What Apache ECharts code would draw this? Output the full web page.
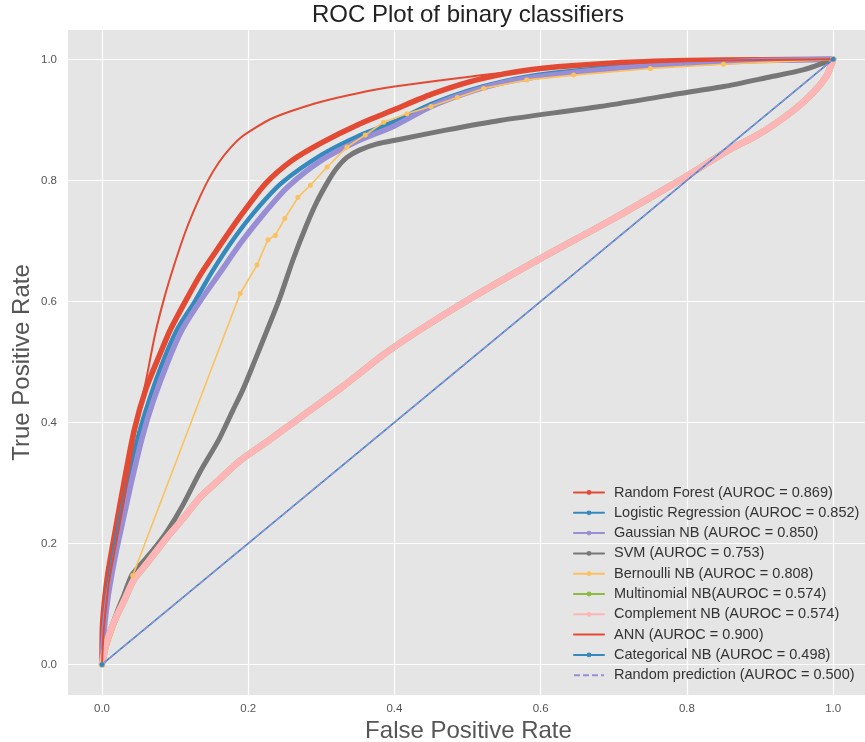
<!DOCTYPE html>
<html><head><meta charset="utf-8">
<script src="https://cdn.jsdelivr.net/npm/echarts@6/dist/echarts.min.js"></script>
<style>html,body{margin:0;padding:0;background:#fff}#c{width:865px;height:742px}</style>
</head><body><div id="c"></div>
<script>
// ---- data (x = FPR, y = TPR) ----
const tickValues = [0.0, 0.2, 0.4, 0.6, 0.8, 1.0];
const seriesNames = [
  'Random Forest (AUROC = 0.869)',
  'Logistic Regression (AUROC = 0.852)',
  'Gaussian NB (AUROC = 0.850)',
  'SVM (AUROC = 0.753)',
  'Bernoulli NB (AUROC = 0.808)',
  'Multinomial NB(AUROC = 0.574)',
  'Complement NB (AUROC = 0.574)',
  'ANN (AUROC = 0.900)',
  'Categorical NB (AUROC = 0.498)',
  'Random prediction (AUROC = 0.500)'
];
const randomForest = [[0,0],[0.0005,0.06],[0.003,0.1],[0.008,0.15],[0.018,0.22],[0.03,0.3],[0.044,0.387],[0.06,0.455],[0.08,0.515],[0.093,0.552],[0.114,0.6],[0.134,0.643],[0.16,0.69],[0.19,0.742],[0.224,0.795],[0.26,0.833],[0.3,0.862],[0.35,0.892],[0.4,0.917],[0.45,0.942],[0.5,0.962],[0.55,0.976],[0.6,0.985],[0.7,0.994],[0.8,0.998],[0.9,0.9995],[1,1]];
const logisticRegression = [[0,0],[0.002,0.05],[0.005,0.09],[0.01,0.14],[0.02,0.21],[0.03,0.27],[0.046,0.36],[0.06,0.42],[0.08,0.49],[0.102,0.552],[0.127,0.6],[0.15,0.648],[0.18,0.703],[0.21,0.75],[0.246,0.796],[0.3,0.842],[0.35,0.873],[0.4,0.897],[0.45,0.926],[0.5,0.948],[0.55,0.964],[0.6,0.975],[0.7,0.987],[0.8,0.994],[0.9,0.998],[1,1]];
const gaussianNB = [[0,0],[0.002,0.04],[0.005,0.08],[0.01,0.125],[0.02,0.19],[0.03,0.245],[0.04,0.3],[0.055,0.375],[0.07,0.435],[0.09,0.5],[0.109,0.552],[0.134,0.6],[0.16,0.645],[0.19,0.697],[0.22,0.743],[0.254,0.789],[0.3,0.833],[0.35,0.865],[0.4,0.89],[0.45,0.922],[0.5,0.945],[0.55,0.962],[0.6,0.972],[0.7,0.985],[0.8,0.993],[0.9,0.998],[1,1]];
const svm = [[0,0],[0.005,0.03],[0.01,0.05],[0.02,0.085],[0.03,0.115],[0.041,0.148],[0.06,0.175],[0.075,0.197],[0.089,0.22],[0.11,0.262],[0.134,0.318],[0.16,0.372],[0.179,0.42],[0.193,0.455],[0.21,0.505],[0.225,0.55],[0.243,0.605],[0.261,0.668],[0.28,0.727],[0.294,0.765],[0.31,0.8],[0.321,0.82],[0.335,0.838],[0.352,0.85],[0.375,0.86],[0.408,0.868],[0.47,0.883],[0.544,0.899],[0.681,0.922],[0.773,0.94],[0.85,0.955],[0.91,0.97],[0.96,0.983],[1,1]];
const bernoulliNB = [[0,0],[0.042,0.147],[0.189,0.613],[0.212,0.66],[0.227,0.702],[0.237,0.709],[0.25,0.737],[0.268,0.772],[0.285,0.792],[0.308,0.822],[0.335,0.855],[0.36,0.875],[0.385,0.896],[0.417,0.91],[0.45,0.922],[0.486,0.937],[0.522,0.952],[0.581,0.966],[0.645,0.974],[0.75,0.985],[0.85,0.992],[1,1]];
const complementNB = [[0,0],[0.005,0.03],[0.01,0.05],[0.02,0.08],[0.03,0.105],[0.043,0.139],[0.06,0.165],[0.089,0.21],[0.11,0.24],[0.134,0.276],[0.16,0.305],[0.189,0.337],[0.23,0.372],[0.271,0.408],[0.33,0.46],[0.385,0.512],[0.431,0.55],[0.5,0.602],[0.6,0.671],[0.7,0.737],[0.79,0.8],[0.818,0.821],[0.86,0.852],[0.895,0.874],[0.92,0.893],[0.945,0.915],[0.965,0.936],[0.98,0.955],[0.992,0.975],[1,1]];
// Multinomial NB has the same curve and is hidden under Complement NB
const multinomialNB = [[0,0],[0.005,0.03],[0.01,0.05],[0.02,0.08],[0.03,0.105],[0.043,0.139],[0.06,0.165],[0.089,0.21],[0.11,0.24],[0.134,0.276],[0.16,0.305],[0.189,0.337],[0.23,0.372],[0.271,0.408],[0.33,0.46],[0.385,0.512],[0.431,0.55],[0.5,0.602],[0.6,0.671],[0.7,0.737],[0.79,0.8],[0.818,0.821],[0.86,0.852],[0.895,0.874],[0.92,0.893],[0.945,0.915],[0.965,0.936],[0.98,0.955],[0.992,0.975],[1,1]];
const ann = [[0,0],[0.002,0.05],[0.005,0.09],[0.01,0.14],[0.02,0.205],[0.03,0.27],[0.046,0.387],[0.06,0.468],[0.0725,0.545],[0.085,0.605],[0.1,0.665],[0.115,0.718],[0.13,0.762],[0.145,0.8],[0.16,0.83],[0.175,0.853],[0.19,0.871],[0.21,0.887],[0.23,0.901],[0.26,0.915],[0.3,0.93],[0.35,0.944],[0.4,0.955],[0.5,0.971],[0.6,0.984],[0.7,0.992],[0.8,0.997],[0.9,0.999],[1,1]];
const categoricalNB = [[0,0],[1,1]];
const randomPrediction = [[0,0],[1,1]];

const colors = ['#E24A33','#348ABD','#988ED5','#777777','#FBC15E','#8EBA42','#FFB5B8','#E24A33','#348ABD','#988ED5'];
const seriesData = [randomForest, logisticRegression, gaussianNB, svm, bernoulliNB, multinomialNB, complementNB, ann, categoricalNB, randomPrediction];
const widths = [5.5, 4.5, 5.5, 5, 1.6, 6.5, 6.5, 2, 1.6, 1.6];

const series = seriesData.map((d, i) => {
  const s = {
    name: seriesNames[i], type: 'line', data: d,
    lineStyle: { color: colors[i], width: widths[i], join: 'round', cap: 'round' },
    itemStyle: { color: colors[i] },
    symbol: 'circle', symbolSize: 5, showSymbol: false,
    smooth: 0.25,
    silent: true, animation: false
  };
  if (i === 4) { s.showSymbol = true; s.smooth = false; }
  if (i === 8) { s.showSymbol = true; s.smooth = false; }
  if (i === 7) { s.itemStyle = { color: 'rgba(0,0,0,0)' }; }
  if (i === 9) { s.smooth = false; s.lineStyle.type = [6, 3]; s.lineStyle.cap = 'butt'; s.itemStyle = { color: 'rgba(0,0,0,0)' }; }
  return s;
});

const chart = echarts.init(document.getElementById('c'), null, { renderer: 'canvas' });
const font = 'Liberation Sans, Arial, sans-serif';
chart.setOption({
  animation: false,
  backgroundColor: '#ffffff',
  title: {
    text: 'ROC Plot of binary classifiers', left: 468, top: 3, textAlign: 'center', padding: 0,
    textStyle: { fontFamily: font, fontSize: 24, fontWeight: 'normal', color: '#222' }
  },
  grid: { left: 68, top: 30, width: 801, height: 665, show: true, backgroundColor: '#E5E5E5', borderWidth: 0, containLabel: false, outerBoundsMode: 'none' },
  xAxis: {
    type: 'value', min: -0.0465, max: 1.049,
    name: 'False Positive Rate', nameLocation: 'middle', nameGap: 24, nameMoveOverlap: false,
    nameTextStyle: { fontFamily: font, fontSize: 24, color: '#555' },
    axisLine: { show: false },
    axisTick: { show: false, customValues: tickValues },
    axisLabel: { customValues: tickValues, formatter: v => v.toFixed(1), fontFamily: font, fontSize: 11.5, color: '#555', margin: 8 },
    splitLine: { show: true, lineStyle: { color: '#ffffff', width: 1.2 } }
  },
  yAxis: {
    type: 'value', min: -0.0505, max: 1.0485,
    name: 'True Positive Rate', nameLocation: 'middle', nameGap: 34, nameMoveOverlap: false,
    nameTextStyle: { fontFamily: font, fontSize: 24, color: '#555' },
    axisLine: { show: false },
    axisTick: { show: false, customValues: tickValues },
    axisLabel: { customValues: tickValues, formatter: v => v.toFixed(1), fontFamily: font, fontSize: 11.5, color: '#555', margin: 11 },
    splitLine: { show: true, lineStyle: { color: '#ffffff', width: 1.2 } }
  },
  legend: {
    orient: 'vertical', left: 573, top: 485, padding: 0,
    itemWidth: 30, itemHeight: 6, itemGap: 5.3,
    lineStyle: { width: 2 },
    selectedMode: false,
    textStyle: { fontFamily: font, fontSize: 14.5, color: '#333', padding: [0, 0, 0, 5], lineHeight: 14 },
    data: seriesNames
  },
  series: series
});
</script></body></html>
